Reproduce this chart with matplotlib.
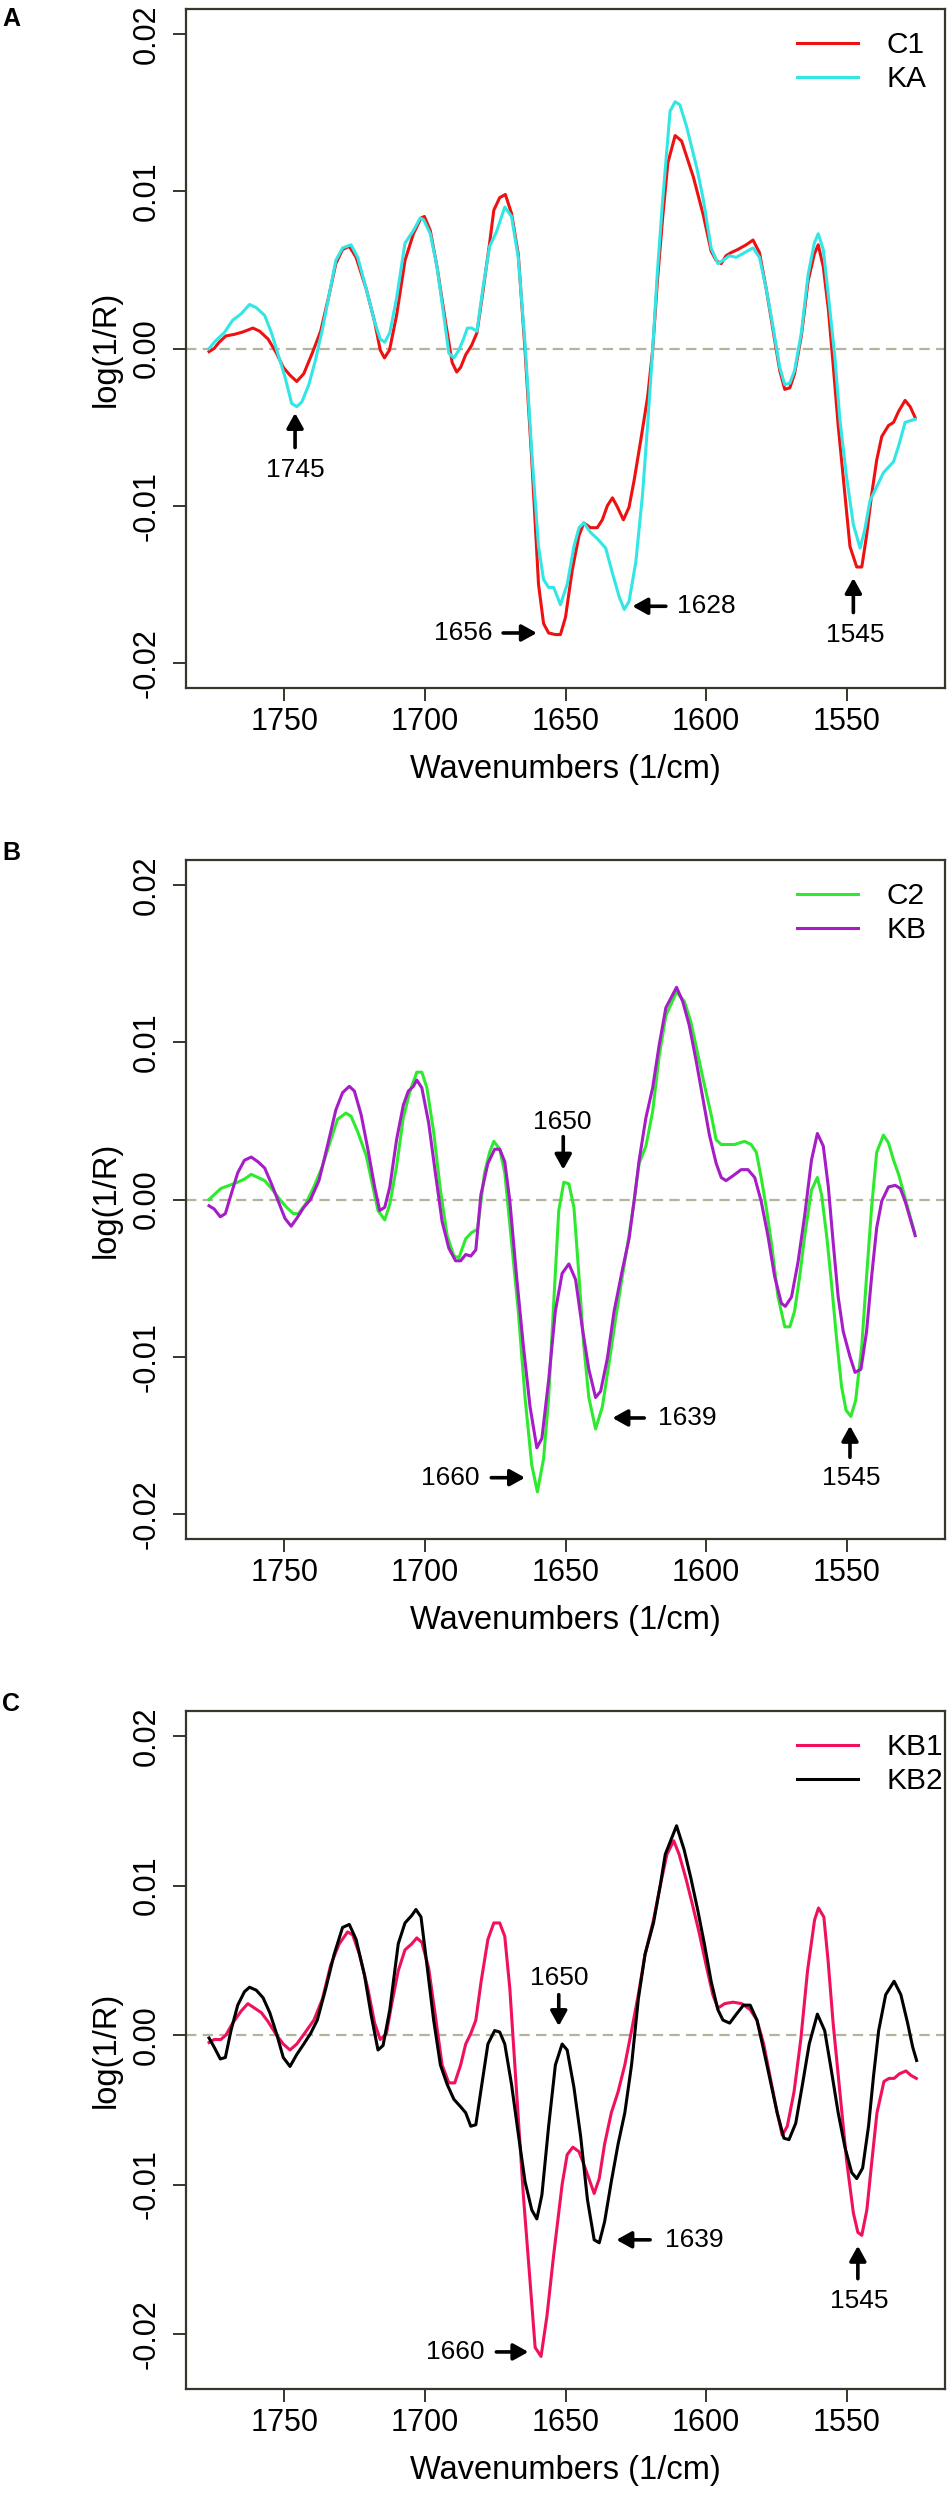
import matplotlib
matplotlib.use("Agg")
import matplotlib.pyplot as plt

plt.rcParams['font.family'] = ['Liberation Sans', 'DejaVu Sans']
plt.rcParams['lines.scale_dashes'] = False

# ---- panel A: C1 / KA ----
c1_wn = [1776.8, 1775.0, 1773.2, 1770.8, 1767.8, 1764.8, 1761.2, 1758.8, 1755.8, 1752.8,
         1750.4, 1748.0, 1745.6, 1743.1, 1740.1, 1737.1, 1734.1, 1731.7, 1729.3, 1726.9,
         1724.5, 1720.9, 1717.9, 1715.9, 1714.4, 1712.6, 1710.1, 1707.1, 1704.1, 1701.4,
         1700.2, 1698.1, 1695.7, 1692.7, 1690.3, 1688.7, 1687.3, 1685.5, 1683.4, 1681.5,
         1679.4, 1677.0, 1675.5, 1673.4, 1671.4, 1669.2, 1666.8, 1664.4, 1662.0, 1659.6,
         1657.8, 1656.0, 1653.6, 1651.8, 1650.0, 1647.6, 1645.2, 1643.5, 1641.1, 1638.7,
         1636.9, 1635.1, 1633.3, 1631.5, 1629.4, 1627.4, 1625.6, 1623.2, 1620.8, 1619.0,
         1617.3, 1615.5, 1613.6, 1611.0, 1608.7, 1604.5, 1601.0, 1598.2, 1596.4, 1594.6,
         1592.9, 1591.1, 1588.7, 1585.7, 1583.3, 1581.0, 1578.6, 1576.2, 1573.8, 1572.0,
         1570.2, 1568.5, 1566.1, 1563.7, 1561.5, 1560.1, 1558.3, 1556.5, 1554.8, 1553.0,
         1550.6, 1548.8, 1546.4, 1544.6, 1542.9, 1541.1, 1539.3, 1537.5, 1535.1, 1533.3,
         1531.5, 1529.2, 1527.4, 1525.6]
c1 = [-0.0002, 0.0000, 0.0004, 0.0008, 0.0009, 0.00105, 0.0013, 0.0011, 0.0006, -0.0003,
      -0.0012, -0.0017, -0.0021, -0.0016, -0.0003, 0.0011, 0.0034, 0.0054, 0.0063, 0.0065,
      0.0058, 0.0038, 0.0017, -0.0001, -0.0006, -0.0001, 0.0021, 0.0056, 0.0073, 0.0083,
      0.0084, 0.0075, 0.0052, 0.0017, -0.0009, -0.0015, -0.0012, -0.0004, 0.0002, 0.0010,
      0.0036, 0.0067, 0.0088, 0.0096, 0.0098, 0.0086, 0.0060, -0.0001, -0.0071, -0.0150,
      -0.0175, -0.0181, -0.0182, -0.0182, -0.0171, -0.0141, -0.0119, -0.0111, -0.0114, -0.0114,
      -0.0109, -0.0100, -0.0095, -0.0101, -0.0109, -0.0101, -0.0084, -0.0058, -0.0031, -0.0001,
      0.0043, 0.0082, 0.0118, 0.01355, 0.0132, 0.0109, 0.0085, 0.0062, 0.0056, 0.0054,
      0.0059, 0.0061, 0.0063, 0.0066, 0.0069, 0.0061, 0.0038, 0.0012, -0.0014, -0.0026,
      -0.0025, -0.0016, 0.0008, 0.0043, 0.0060, 0.0066, 0.0052, 0.0025, -0.0010, -0.0049,
      -0.0093, -0.0126, -0.0139, -0.0139, -0.0119, -0.0093, -0.0071, -0.0056, -0.0049, -0.0047,
      -0.0040, -0.0033, -0.0037, -0.0044]

ka_wn = [1776.8, 1774.4, 1771.4, 1768.4, 1765.4, 1762.4, 1760.0, 1757.0, 1754.6, 1752.2,
         1749.8, 1747.4, 1745.6, 1743.8, 1741.3, 1738.9, 1736.5, 1734.1, 1731.7, 1729.3,
         1726.3, 1723.9, 1720.9, 1717.9, 1715.9, 1714.3, 1712.5, 1710.1, 1707.1, 1704.1,
         1701.7, 1700.5, 1698.1, 1695.7, 1693.3, 1691.5, 1689.7, 1687.9, 1686.3, 1684.9,
         1683.4, 1681.5, 1679.4, 1677.0, 1674.6, 1671.6, 1669.2, 1666.8, 1664.4, 1662.0,
         1659.6, 1657.8, 1656.0, 1654.2, 1651.8, 1649.4, 1647.0, 1645.2, 1643.5, 1641.1,
         1638.7, 1635.7, 1633.3, 1630.9, 1629.1, 1627.4, 1625.0, 1622.6, 1620.8, 1619.0,
         1617.3, 1615.5, 1612.8, 1611.0, 1609.3, 1606.9, 1603.3, 1601.0, 1598.2, 1595.8,
         1594.0, 1591.7, 1589.3, 1586.3, 1583.3, 1581.0, 1578.6, 1576.2, 1573.8, 1572.0,
         1570.2, 1568.5, 1566.1, 1563.7, 1561.5, 1560.1, 1558.3, 1556.5, 1554.2, 1552.4,
         1550.0, 1547.6, 1545.2, 1543.5, 1541.7, 1539.3, 1536.9, 1533.3, 1531.5, 1529.2,
         1527.4, 1525.6]
ka = [0.0000, 0.0005, 0.0010, 0.0018, 0.0022, 0.0028, 0.0026, 0.0021, 0.0010, -0.0004,
      -0.0018, -0.0035, -0.0037, -0.0034, -0.0023, -0.0007, 0.0012, 0.0034, 0.0056, 0.0064,
      0.0066, 0.0058, 0.0038, 0.0017, 0.0006, 0.0004, 0.0010, 0.0032, 0.0067, 0.0075,
      0.0083, 0.0082, 0.0073, 0.0052, 0.0021, -0.0003, -0.0006, -0.0001, 0.0006, 0.0013,
      0.0013, 0.0011, 0.0038, 0.0065, 0.0074, 0.0090, 0.0084, 0.0058, 0.0003, -0.0066,
      -0.0126, -0.0147, -0.0152, -0.0152, -0.0163, -0.0150, -0.0126, -0.0114, -0.0111, -0.0117,
      -0.0121, -0.0127, -0.0143, -0.0158, -0.0166, -0.0161, -0.0136, -0.0093, -0.0049, -0.0001,
      0.0049, 0.0093, 0.0151, 0.0157, 0.0155, 0.0141, 0.0115, 0.0095, 0.0064, 0.0054,
      0.0056, 0.0059, 0.0058, 0.0061, 0.0064, 0.0058, 0.0038, 0.0014, -0.0012, -0.0023,
      -0.0022, -0.0014, 0.0010, 0.0047, 0.0067, 0.0073, 0.0063, 0.0034, -0.0005, -0.0045,
      -0.0082, -0.0112, -0.0127, -0.0115, -0.0097, -0.0088, -0.0079, -0.0072, -0.0062, -0.0047,
      -0.0046, -0.0045]

# ---- panel B: C2 / KB ----
c2_wn = [1776.8, 1775.0, 1772.6, 1769.6, 1766.6, 1764.2, 1761.8, 1759.4, 1757.0, 1754.6,
         1751.6, 1749.2, 1746.8, 1745.0, 1742.5, 1739.5, 1736.5, 1733.5, 1731.1, 1728.1,
         1726.3, 1723.9, 1720.9, 1718.5, 1716.7, 1714.3, 1712.5, 1710.1, 1707.7, 1705.3,
         1702.9, 1701.1, 1699.3, 1696.9, 1694.5, 1692.1, 1689.7, 1687.9, 1685.5, 1683.4,
         1681.3, 1678.8, 1677.0, 1675.5, 1673.4, 1671.6, 1669.2, 1666.8, 1664.4, 1662.0,
         1660.0, 1657.8, 1656.0, 1654.2, 1652.4, 1650.6, 1648.8, 1647.0, 1645.2, 1643.5,
         1641.7, 1639.3, 1636.9, 1634.5, 1632.1, 1629.8, 1627.4, 1625.6, 1623.8, 1621.4,
         1619.0, 1616.7, 1614.3, 1610.5, 1607.7, 1605.4, 1603.0, 1600.6, 1598.2, 1596.4,
         1594.6, 1592.3, 1589.9, 1586.3, 1584.0, 1582.1, 1580.4, 1578.6, 1576.8, 1574.4,
         1572.0, 1570.2, 1568.5, 1566.7, 1564.9, 1562.5, 1560.4, 1558.9, 1557.1, 1555.4,
         1553.6, 1551.8, 1550.2, 1548.5, 1546.8, 1544.6, 1542.9, 1541.1, 1539.3, 1536.9,
         1535.1, 1533.3, 1531.5, 1529.8, 1528.0, 1525.8]
c2 = [0.0000, 0.0003, 0.0007, 0.0009, 0.0011, 0.0013, 0.0016, 0.0014, 0.0012, 0.0007,
      0.0000, -0.0005, -0.0009, -0.0009, -0.0003, 0.0008, 0.0021, 0.0038, 0.0051, 0.0055,
      0.0053, 0.0043, 0.0028, 0.0008, -0.0007, -0.0013, -0.0003, 0.0021, 0.0052, 0.0069,
      0.0081, 0.0081, 0.0071, 0.0043, 0.0006, -0.0023, -0.0036, -0.0037, -0.0025, -0.0021,
      -0.0019, 0.0017, 0.0030, 0.0037, 0.0032, 0.0017, -0.0027, -0.0071, -0.0126, -0.0169,
      -0.0186, -0.0165, -0.0126, -0.0066, -0.0007, 0.0011, 0.0010, -0.0005, -0.0049, -0.0093,
      -0.0126, -0.0146, -0.0132, -0.0104, -0.0075, -0.0049, -0.0023, -0.0001, 0.0023, 0.0034,
      0.0056, 0.0091, 0.0117, 0.0132, 0.0126, 0.0113, 0.0093, 0.0073, 0.0054, 0.0038,
      0.0035, 0.0035, 0.0035, 0.0037, 0.0035, 0.0030, 0.0014, -0.0005, -0.0027, -0.0062,
      -0.0081, -0.0081, -0.0071, -0.0049, -0.0023, 0.0006, 0.0014, 0.0003, -0.0023, -0.0053,
      -0.0088, -0.0119, -0.0134, -0.0138, -0.0128, -0.0093, -0.0049, -0.0005, 0.0030, 0.0041,
      0.0036, 0.0025, 0.0016, 0.0005, -0.0007, -0.0021]

kb_wn = [1776.8, 1775.0, 1772.8, 1771.0, 1769.0, 1766.6, 1764.2, 1761.8, 1759.4, 1757.0,
         1754.6, 1752.2, 1749.8, 1747.6, 1745.6, 1743.1, 1740.7, 1737.7, 1734.7, 1731.7,
         1729.3, 1726.9, 1725.1, 1722.7, 1720.3, 1717.9, 1716.1, 1714.3, 1712.5, 1710.1,
         1707.7, 1705.9, 1704.1, 1702.9, 1701.1, 1698.7, 1696.3, 1693.9, 1691.5, 1689.1,
         1687.3, 1685.5, 1683.7, 1681.9, 1680.1, 1677.6, 1675.2, 1673.4, 1671.6, 1669.8,
         1667.4, 1665.0, 1662.6, 1660.2, 1658.4, 1656.0, 1653.6, 1651.2, 1648.8, 1646.4,
         1644.0, 1641.7, 1639.3, 1637.5, 1635.1, 1632.7, 1629.8, 1627.4, 1625.6, 1623.8,
         1621.4, 1619.0, 1616.7, 1614.3, 1610.5, 1608.3, 1606.0, 1603.6, 1601.2, 1598.8,
         1596.4, 1594.6, 1592.9, 1590.5, 1587.5, 1585.1, 1582.7, 1580.4, 1578.0, 1575.6,
         1573.2, 1571.8, 1569.6, 1567.3, 1564.9, 1562.5, 1560.4, 1558.3, 1556.5, 1554.8,
         1553.0, 1551.2, 1548.8, 1547.0, 1544.9, 1542.9, 1541.1, 1539.3, 1537.5, 1535.1,
         1532.7, 1530.9, 1529.2, 1527.4, 1525.6]
kb = [-0.0004, -0.0006, -0.0011, -0.0009, 0.0003, 0.0017, 0.0025, 0.0027, 0.0024, 0.0020,
      0.0010, -0.0001, -0.0012, -0.0017, -0.0012, -0.0005, 0.0000, 0.0012, 0.0034, 0.0057,
      0.0068, 0.0072, 0.0069, 0.0054, 0.0032, 0.0008, -0.0007, -0.0005, 0.0008, 0.0038,
      0.0060, 0.0069, 0.0072, 0.0076, 0.0071, 0.0049, 0.0017, -0.0014, -0.0031, -0.0039,
      -0.0039, -0.0035, -0.0036, -0.0032, 0.0003, 0.0023, 0.0032, 0.0032, 0.0024, -0.0001,
      -0.0049, -0.0093, -0.0132, -0.0158, -0.0152, -0.0115, -0.0071, -0.0047, -0.0041, -0.0051,
      -0.0082, -0.0108, -0.0126, -0.0122, -0.0101, -0.0071, -0.0045, -0.0025, -0.0001, 0.0025,
      0.0052, 0.0071, 0.0098, 0.0122, 0.0135, 0.0126, 0.0111, 0.0089, 0.0065, 0.0041,
      0.0023, 0.0014, 0.0012, 0.0015, 0.0019, 0.0019, 0.0014, -0.0001, -0.0023, -0.0049,
      -0.0066, -0.0068, -0.0062, -0.0040, -0.0010, 0.0025, 0.0042, 0.0034, 0.0008, -0.0027,
      -0.0062, -0.0084, -0.0100, -0.0110, -0.0108, -0.0084, -0.0049, -0.0018, -0.0001, 0.0008,
      0.0009, 0.0007, -0.0001, -0.0012, -0.0023]

# ---- panel C: KB1 / KB2 ----
kb1_wn = [1776.8, 1775.0, 1772.6, 1770.8, 1768.4, 1765.4, 1763.0, 1760.6, 1758.2, 1755.8,
          1752.8, 1750.4, 1748.0, 1745.6, 1742.5, 1739.5, 1736.5, 1733.5, 1730.5, 1727.5,
          1725.7, 1723.3, 1720.3, 1717.9, 1715.9, 1713.7, 1711.9, 1709.5, 1707.1, 1704.7,
          1702.9, 1701.1, 1698.7, 1696.3, 1693.9, 1691.5, 1689.4, 1687.3, 1685.5, 1683.7,
          1681.9, 1680.0, 1677.6, 1675.5, 1673.4, 1671.6, 1669.8, 1667.4, 1665.0, 1662.6,
          1660.8, 1658.7, 1656.6, 1654.2, 1651.2, 1649.4, 1647.4, 1645.2, 1642.8, 1639.8,
          1638.0, 1636.1, 1633.7, 1631.3, 1628.9, 1626.5, 1624.1, 1621.7, 1618.7, 1616.3,
          1613.9, 1611.5, 1609.6, 1607.2, 1604.8, 1602.4, 1600.0, 1597.6, 1595.8, 1593.4,
          1590.4, 1587.3, 1584.3, 1581.9, 1579.5, 1577.1, 1574.7, 1572.9, 1571.1, 1568.7,
          1566.3, 1563.9, 1561.4, 1560.0, 1558.1, 1556.6, 1554.8, 1552.4, 1550.0, 1547.6,
          1546.0, 1544.6, 1542.8, 1541.0, 1539.2, 1536.7, 1534.9, 1533.1, 1531.3, 1528.9,
          1527.1, 1525.2]
kb1 = [-0.0005, -0.0003, -0.0003, 0.0000, 0.0008, 0.0016, 0.0021, 0.0018, 0.0015, 0.0009,
       0.0000, -0.0006, -0.0010, -0.0006, 0.0002, 0.0010, 0.0024, 0.0047, 0.0061, 0.0069,
       0.0067, 0.0054, 0.0031, 0.0008, -0.0003, 0.0001, 0.0020, 0.0043, 0.0057, 0.0061,
       0.0065, 0.0062, 0.0045, 0.0013, -0.0020, -0.0032, -0.0032, -0.0020, -0.0006, 0.0001,
       0.0010, 0.0036, 0.0064, 0.0075, 0.0075, 0.0066, 0.0031, -0.0038, -0.0107, -0.0165,
       -0.0209, -0.0215, -0.0188, -0.0147, -0.0100, -0.0080, -0.0075, -0.0078, -0.0090, -0.0106,
       -0.0096, -0.0073, -0.0052, -0.0038, -0.0020, 0.0003, 0.0027, 0.0054, 0.0077, 0.0100,
       0.0121, 0.0130, 0.0121, 0.0105, 0.0087, 0.0068, 0.0047, 0.0027, 0.0018, 0.0021,
       0.0022, 0.0021, 0.0017, 0.0010, -0.0006, -0.0029, -0.0052, -0.0067, -0.0061, -0.0038,
       -0.0003, 0.0043, 0.0077, 0.0085, 0.0079, 0.0050, 0.0008, -0.0038, -0.0084, -0.0119,
       -0.0132, -0.0134, -0.0117, -0.0084, -0.0052, -0.0031, -0.0029, -0.0029, -0.0026, -0.0024,
       -0.0027, -0.0029]

kb2_wn = [1776.8, 1775.0, 1772.8, 1771.0, 1769.0, 1766.6, 1764.2, 1762.4, 1760.0, 1757.6,
          1755.2, 1752.8, 1750.4, 1748.0, 1745.6, 1743.1, 1740.7, 1738.3, 1735.3, 1732.3,
          1729.3, 1726.9, 1724.5, 1721.5, 1719.1, 1716.7, 1714.9, 1712.5, 1709.5, 1707.1,
          1704.7, 1703.2, 1701.4, 1699.3, 1696.9, 1694.5, 1692.1, 1689.7, 1687.3, 1685.5,
          1683.7, 1681.9, 1680.0, 1677.6, 1675.2, 1673.4, 1671.6, 1669.2, 1666.8, 1664.4,
          1662.0, 1660.2, 1658.4, 1656.0, 1653.6, 1651.2, 1649.4, 1647.0, 1644.6, 1642.2,
          1639.8, 1638.0, 1636.1, 1633.7, 1631.3, 1628.9, 1626.5, 1624.1, 1621.7, 1618.7,
          1616.3, 1614.5, 1610.5, 1607.8, 1605.4, 1603.0, 1600.6, 1598.2, 1595.8, 1594.0,
          1591.6, 1589.2, 1586.7, 1584.3, 1581.9, 1579.5, 1577.1, 1574.7, 1572.3, 1570.5,
          1568.1, 1565.7, 1563.3, 1560.4, 1557.8, 1555.4, 1553.0, 1550.6, 1548.2, 1546.4,
          1544.3, 1542.2, 1540.4, 1538.6, 1536.1, 1533.1, 1530.7, 1528.3, 1526.5, 1525.1]
kb2 = [-0.0002, -0.0008, -0.0016, -0.0015, 0.0003, 0.0020, 0.0029, 0.0032, 0.0030, 0.0025,
       0.0015, 0.0001, -0.0015, -0.0021, -0.0013, -0.0006, 0.0001, 0.0010, 0.0031, 0.0054,
       0.0072, 0.0074, 0.0064, 0.0040, 0.0013, -0.0010, -0.0007, 0.0017, 0.0061, 0.0075,
       0.0080, 0.0084, 0.0079, 0.0047, 0.0010, -0.0020, -0.0033, -0.0043, -0.0048, -0.0052,
       -0.0061, -0.0060, -0.0036, -0.0006, 0.0003, 0.0002, -0.0006, -0.0033, -0.0066, -0.0098,
       -0.0117, -0.0123, -0.0107, -0.0061, -0.0020, -0.0006, -0.0010, -0.0035, -0.0068, -0.0110,
       -0.0137, -0.0139, -0.0125, -0.0098, -0.0073, -0.0052, -0.0020, 0.0024, 0.0054, 0.0075,
       0.0100, 0.0121, 0.0140, 0.0124, 0.0105, 0.0084, 0.0061, 0.0036, 0.0017, 0.0010,
       0.0008, 0.0014, 0.0020, 0.0020, 0.0010, -0.0010, -0.0031, -0.0052, -0.0069, -0.0070,
       -0.0059, -0.0033, -0.0006, 0.0014, 0.0003, -0.0024, -0.0052, -0.0075, -0.0092, -0.0096,
       -0.0089, -0.0061, -0.0027, 0.0003, 0.0027, 0.0036, 0.0027, 0.0008, -0.0008, -0.0017]

ytick_vals = [-0.02, -0.01, 0.0, 0.01, 0.02]
ytick_labels = ["-0.02", "-0.01", "0.00", "0.01", "0.02"]
xtick_vals = [1750, 1700, 1650, 1600, 1550]

frame_col = '#36362a'
W, H = 950, 2500


def setup_panel(ax, ylim):
    ax.set_xlim(1785, 1515)
    ax.set_ylim(*ylim)
    ax.axhline(0, color='#b4b49e', lw=1.6, dashes=(7.5, 4.5), zorder=1)
    ax.set_yticks(ytick_vals)
    ax.set_yticklabels(ytick_labels, rotation=90, va='center')
    ax.set_xticks(xtick_vals)
    ax.tick_params(axis='both', direction='out', length=9.5, width=1.4, colors=frame_col,
                   labelcolor='black', labelsize=22)
    ax.tick_params(axis='x', pad=4.5)
    ax.tick_params(axis='y', pad=8)
    for s in ax.spines.values():
        s.set_color(frame_col)
        s.set_linewidth(1.6)
    ax.set_xlabel("Wavenumbers (1/cm)", fontsize=23.5, labelpad=12)
    ax.set_ylabel("log(1/R)", fontsize=23.5, labelpad=7)


def arrow(ax, tail, tip):
    ax.annotate('', xy=tip, xytext=tail,
                arrowprops=dict(arrowstyle='-|>,head_length=0.9,head_width=0.5',
                                lw=2.6, color='black', shrinkA=0, shrinkB=0,
                                mutation_scale=10))


def legend(ax, lines, names):
    ax.legend(lines, names, loc='upper left', bbox_to_anchor=(0.805, 0.967), frameon=False,
              fontsize=21.5, handlelength=2.04, handletextpad=0.97, labelspacing=0.19,
              borderpad=0, borderaxespad=0)


fig = plt.figure(figsize=(W / 100, H / 100), dpi=100)

def add_panel(top, bottom):
    return fig.add_axes([186 / W, 1 - bottom / H, (945 - 186) / W, (bottom - top) / H])

# panel A
axA = add_panel(9, 688)
setup_panel(axA, (-0.0216, 0.0216))
la, = axA.plot(c1_wn, c1, color='#ee1111', lw=2.2)
lb, = axA.plot(ka_wn, ka, color='#33e6e6', lw=2.2)
legend(axA, [la, lb], ["C1", "KA"])
arrow(axA, (1746.2, -0.0063), (1746.2, -0.0041))
axA.text(1746.2, -0.0077, "1745", fontsize=19, ha='center', va='center')
arrow(axA, (1672.2, -0.0181), (1660.2, -0.0181))
axA.text(1686.5, -0.0181, "1656", fontsize=19, ha='center', va='center')
arrow(axA, (1614.3, -0.0164), (1626.2, -0.0164))
axA.text(1610.5, -0.0164, "1628", fontsize=19, ha='left', va='center')
arrow(axA, (1547.6, -0.0168), (1547.6, -0.0146))
axA.text(1547.0, -0.0182, "1545", fontsize=19, ha='center', va='center')

# panel B
axB = add_panel(860, 1539)
setup_panel(axB, (-0.0216, 0.0216))
la, = axB.plot(c2_wn, c2, color='#2eea2e', lw=2.2)
lb, = axB.plot(kb_wn, kb, color='#a61cc6', lw=2.2)
legend(axB, [la, lb], ["C2", "KB"])
axB.text(1651.2, 0.0049, "1650", fontsize=19, ha='center', va='center')
arrow(axB, (1650.8, 0.0040), (1650.8, 0.0019))
arrow(axB, (1676.4, -0.0177), (1664.4, -0.0177))
axB.text(1690.9, -0.0177, "1660", fontsize=19, ha='center', va='center')
arrow(axB, (1622.0, -0.0139), (1633.3, -0.0139))
axB.text(1617.0, -0.0139, "1639", fontsize=19, ha='left', va='center')
arrow(axB, (1548.8, -0.0164), (1548.8, -0.0144))
axB.text(1548.5, -0.0177, "1545", fontsize=19, ha='center', va='center')

# panel C
axC = add_panel(1711, 2389)
setup_panel(axC, (-0.02368, 0.02168))
la, = axC.plot(kb1_wn, kb1, color='#f0105e', lw=2.2)
lb, = axC.plot(kb2_wn, kb2, color='black', lw=2.2)
legend(axC, [la, lb], ["KB1", "KB2"])
axC.text(1652.4, 0.0038, "1650", fontsize=19, ha='center', va='center')
arrow(axC, (1652.4, 0.0027), (1652.4, 0.0006))
arrow(axC, (1674.6, -0.0212), (1663.2, -0.0212))
axC.text(1689.1, -0.0212, "1660", fontsize=19, ha='center', va='center')
arrow(axC, (1619.9, -0.0137), (1631.9, -0.0137))
axC.text(1614.5, -0.0137, "1639", fontsize=19, ha='left', va='center')
arrow(axC, (1546.0, -0.0163), (1546.0, -0.0141))
axC.text(1545.5, -0.0178, "1545", fontsize=19, ha='center', va='center')

# panel letters
for lab, yc in [("A", 19), ("B", 853), ("C", 1704)]:
    fig.text(2 / W, 1 - yc / H, lab, fontsize=18, fontweight='bold', ha='left', va='center')

fig.savefig("out.png", dpi=100)
